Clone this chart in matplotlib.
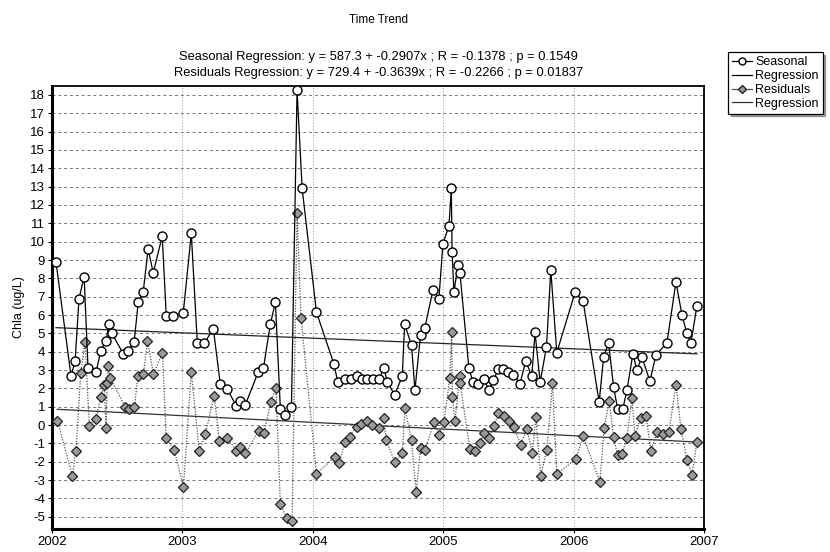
import numpy as np
import matplotlib
matplotlib.use("Agg")
import matplotlib.pyplot as plt
from matplotlib.lines import Line2D

plt.rcParams['font.family'] = ['Liberation Sans', 'DejaVu Sans']

# seasonal series (decimal years, Chla ug/L)
seasonal_t = [2002.03, 2002.146, 2002.177, 2002.207, 2002.246, 2002.276, 2002.338, 2002.374,
              2002.413, 2002.438, 2002.459, 2002.545, 2002.584, 2002.630, 2002.661, 2002.699,
              2002.737, 2002.776, 2002.845, 2002.876, 2002.929, 2003.006, 2003.068, 2003.114,
              2003.167, 2003.237, 2003.290, 2003.344, 2003.413, 2003.444, 2003.482, 2003.582,
              2003.621, 2003.674, 2003.713, 2003.751, 2003.790, 2003.836, 2003.879, 2003.918,
              2004.028, 2004.161, 2004.191, 2004.250, 2004.289, 2004.335, 2004.379, 2004.417,
              2004.463, 2004.506, 2004.545, 2004.571, 2004.627, 2004.686, 2004.704, 2004.757,
              2004.783, 2004.826, 2004.859, 2004.921, 2004.967, 2004.998, 2005.044, 2005.062,
              2005.068, 2005.082, 2005.114, 2005.128, 2005.197, 2005.228, 2005.266, 2005.313,
              2005.350, 2005.385, 2005.423, 2005.462, 2005.500, 2005.538, 2005.589, 2005.633,
              2005.679, 2005.704, 2005.743, 2005.792, 2005.825, 2005.871, 2006.012, 2006.073,
              2006.196, 2006.230, 2006.268, 2006.306, 2006.337, 2006.378, 2006.409, 2006.455,
              2006.485, 2006.524, 2006.585, 2006.631, 2006.716, 2006.785, 2006.831, 2006.869,
              2006.900, 2006.946]
seasonal_v = [8.9, 2.65, 3.5, 6.9, 8.1, 3.1, 2.9, 4.05,
              4.6, 5.5, 5.0, 3.9, 4.05, 4.55, 6.7, 7.25,
              9.6, 8.3, 10.3, 5.95, 5.95, 6.1, 10.45, 4.5,
              4.45, 5.25, 2.25, 1.95, 1.05, 1.3, 1.1, 2.9,
              3.1, 5.5, 6.7, 0.9, 0.55, 0.97, 18.25, 12.9,
              6.15, 3.35, 2.35, 2.5, 2.5, 2.65, 2.5, 2.5,
              2.5, 2.5, 3.1, 2.35, 1.65, 2.65, 5.5, 4.35,
              1.9, 4.9, 5.3, 7.35, 6.9, 9.9, 10.85, 12.9,
              9.45, 7.25, 8.75, 8.3, 3.1, 2.35, 2.25, 2.5,
              1.9, 2.45, 3.05, 3.05, 2.9, 2.75, 2.25, 3.5,
              2.65, 5.05, 2.35, 4.25, 8.45, 3.95, 7.25, 6.75,
              1.25, 3.7, 4.5, 2.1, 0.9, 0.9, 1.9, 3.9,
              3.0, 3.7, 2.4, 3.8, 4.5, 7.8, 6.0, 5.0,
              4.5, 6.5]

# residual series
resid_t = [2002.041, 2002.156, 2002.184, 2002.220, 2002.253, 2002.286, 2002.338, 2002.374,
           2002.399, 2002.415, 2002.422, 2002.432, 2002.445, 2002.561, 2002.594, 2002.632,
           2002.658, 2002.701, 2002.732, 2002.778, 2002.847, 2002.876, 2002.937, 2003.008,
           2003.068, 2003.129, 2003.175, 2003.244, 2003.283, 2003.342, 2003.413, 2003.439,
           2003.482, 2003.584, 2003.623, 2003.680, 2003.718, 2003.751, 2003.803, 2003.841,
           2003.879, 2003.910, 2004.028, 2004.168, 2004.199, 2004.250, 2004.283, 2004.335,
           2004.373, 2004.412, 2004.455, 2004.506, 2004.545, 2004.563, 2004.627, 2004.686,
           2004.706, 2004.757, 2004.793, 2004.826, 2004.861, 2004.929, 2004.967, 2005.005,
           2005.051, 2005.065, 2005.070, 2005.090, 2005.126, 2005.130, 2005.205, 2005.241,
           2005.282, 2005.313, 2005.350, 2005.389, 2005.423, 2005.466, 2005.505, 2005.543,
           2005.594, 2005.641, 2005.684, 2005.710, 2005.748, 2005.794, 2005.838, 2005.871,
           2006.017, 2006.073, 2006.201, 2006.234, 2006.273, 2006.306, 2006.337, 2006.370,
           2006.409, 2006.447, 2006.470, 2006.516, 2006.555, 2006.593, 2006.639, 2006.685,
           2006.731, 2006.785, 2006.823, 2006.869, 2006.908, 2006.946]
resid_v = [0.24, -2.76, -1.4, 2.82, 4.55, -0.04, 0.33, 1.55,
           2.2, -0.15, 2.27, 3.2, 2.58, 1.0, 0.87, 0.97,
           2.67, 2.78, 4.6, 2.78, 3.95, -0.73, -1.36, -3.4,
           2.91, -1.42, -0.51, 1.6, -0.87, -0.69, -1.4, -1.18,
           -1.55, -0.33, -0.45, 1.27, 2.04, -4.33, -5.09, -5.24,
           11.55, 5.82, -2.67, -1.73, -2.09, -0.91, -0.64, -0.09,
           0.05, 0.24, 0.0, -0.18, 0.36, -0.82, -2.0, -1.55,
           0.91, -0.82, -3.67, -1.27, -1.38, 0.18, -0.55, 0.18,
           2.55, 5.09, 1.55, 0.22, 2.67, 2.27, -1.33, -1.4,
           -1.0, -0.45, -0.73, -0.05, 0.64, 0.49, 0.24, -0.09,
           -1.09, -0.22, -1.55, 0.42, -2.76, -1.36, 2.27, -2.67,
           -1.87, -0.6, -3.09, -0.18, 1.31, -0.67, -1.64, -1.6,
           -0.7, 1.5, -0.6, 0.4, 0.5, -1.4, -0.4, -0.5,
           -0.4, 2.2, -0.2, -1.9, -2.7, -0.9]

# regression coefficients (intercept, slope)
seas_fit = (587.3, -0.2907)
resid_fit = (729.4, -0.3639)
subtitle = ["Seasonal Regression: y = 587.3 + -0.2907x ; R = -0.1378 ; p = 0.1549",
            "Residuals Regression: y = 729.4 + -0.3639x ; R = -0.2266 ; p = 0.01837"]
year_ticks = [2002, 2003, 2004, 2005, 2006, 2007]
y_ticks = list(range(-5, 19))

fig = plt.figure(figsize=(8.3, 5.52), dpi=100)
ax = fig.add_axes([0.0627, 0.0417, 0.7855, 0.8025])

ax.plot(seasonal_t, seasonal_v, color='black', lw=0.9, marker='o', ms=6.5,
        mfc='white', mec='black', mew=1.0, zorder=4)
ax.plot(resid_t, resid_v, color='#555555', lw=0.9, ls=(0, (1, 1.2)), marker='D', ms=4.8,
        mfc='#9a9a9a', mec='#222222', mew=0.9, zorder=3)

xs = np.array([seasonal_t[0], seasonal_t[-1]])
ax.plot(xs, seas_fit[0] + seas_fit[1] * xs, color='#222222', lw=0.9, zorder=2)
xr = np.array([resid_t[0], resid_t[-1]])
ax.plot(xr, resid_fit[0] + resid_fit[1] * xr, color='#333333', lw=0.9, zorder=2)

ax.set_xlim(2002, 2007)
ax.set_ylim(-5.67, 18.49)
ax.set_xticks(year_ticks)
ax.set_xticklabels([str(y) for y in year_ticks], fontsize=9.5)
ax.set_yticks(y_ticks)
ax.set_yticklabels([str(v) for v in y_ticks], fontsize=9.5)
ax.tick_params(axis='both', length=3, width=0.8, pad=2, direction='out')
ax.set_ylabel("Chla (ug/L)", fontsize=9, labelpad=4)

ax.yaxis.grid(True, color='#777777', ls=(0, (3, 3)), lw=0.7)
ax.xaxis.grid(True, color='#999999', ls=(0, (1, 2)), lw=0.7)
ax.set_axisbelow(True)
for side in ['left', 'bottom']:
    ax.spines[side].set_linewidth(2.2)
for side in ['top', 'right']:
    ax.spines[side].set_linewidth(1.3)

fig.text(0.4555, 0.963, "Time Trend", ha='center', va='center', fontsize=8.5)
fig.text(0.4555, 0.896, subtitle[0], ha='center', va='center', fontsize=9.3)
fig.text(0.4555, 0.868, subtitle[1], ha='center', va='center', fontsize=9.3)

handles = [Line2D([], [], color='black', lw=0.9, marker='o', ms=5, mfc='white', mec='black'),
           Line2D([], [], color='black', lw=0.9),
           Line2D([], [], color='#555555', lw=0.9, marker='D', ms=4, mfc='#9a9a9a', mec='#222222'),
           Line2D([], [], color='#333333', lw=0.9)]
leg = fig.legend(handles, ["Seasonal", "Regression", "Residuals", "Regression"],
                 loc='upper left', bbox_to_anchor=(0.877, 0.905), fontsize=9,
                 frameon=True, fancybox=False, shadow=True, handlelength=1.6,
                 handletextpad=0.3, borderpad=0.3, labelspacing=0.15, borderaxespad=0)
leg.get_frame().set_edgecolor('black')
leg.get_frame().set_linewidth(0.9)

fig.savefig("out.png", dpi=100)
